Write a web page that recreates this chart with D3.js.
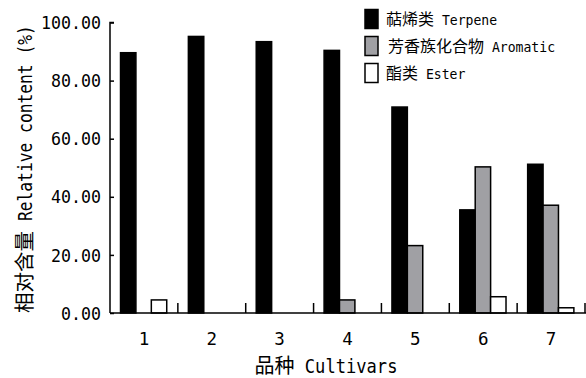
<!DOCTYPE html>
<html><head><meta charset="utf-8">
<script src="https://cdn.jsdelivr.net/npm/d3@7"></script>
<style>
body{margin:0;background:#fff;}
text{fill:#000;}
</style></head>
<body><svg id="c" width="586" height="378"></svg>
<script>
const categories = ["1","2","3","4","5","6","7"];
const seriesNames = [["萜烯类","Terpene"],["芳香族化合物","Aromatic"],["酯类","Ester"]];
const terpene  = [89.6, 95.2, 93.4, 90.4, 70.9, 35.5, 51.2];
const aromatic = [0, 0, 0, 4.5, 23.2, 50.3, 37.1];
const ester    = [4.5, 0, 0, 0, 0, 5.6, 1.8];
const yTicks = [0,20,40,60,80,100];
const colors = ["#000000","#a0a0a4","#ffffff"];

(function(){
const CJK = "'Noto Sans CJK SC','Noto Sans CJK JP',sans-serif";
const MONO = "'DejaVu Sans Mono','Liberation Mono',monospace";
const svg = d3.select("#c");
const L = 110, R = 585, T = 22.5, B = 313;
const x = d3.scaleBand().domain(categories).range([L, R]).paddingInner(0).paddingOuter(0);
const y = d3.scaleLinear().domain([0,100]).range([B, T]);
const series = [terpene, aromatic, ester];
const barW = x.bandwidth()*0.227;
const off = x.bandwidth()*0.155;

// CJK text followed by half-width latin text (latin compressed horizontally)
function mixed(parent, px, py, rot, anchor, cjk, latin, cjkSize, latSize, em) {
  const g = parent.append("g").attr("transform", `translate(${px},${py}) rotate(${rot})`);
  const t1 = g.append("text").attr("font-family", CJK).attr("font-size", cjkSize).text(cjk);
  const w1 = t1.node().getComputedTextLength();
  const t2 = g.append("text").attr("font-family", MONO).attr("font-size", latSize).text(latin);
  const nat = t2.node().getComputedTextLength();
  const target = latin.length*em;
  const total = w1 + em + target;
  const x0 = anchor === "middle" ? -total/2 : 0;
  t1.attr("x", x0);
  t2.attr("transform", `translate(${x0 + w1 + em},0) scale(${target/nat},1)`);
  return g;
}

series.forEach((vals, si) => {
  svg.append("g").selectAll("rect").data(vals.map((v,i)=>({v, c:categories[i]})).filter(d=>d.v>0))
    .join("rect")
    .attr("x", d => x(d.c) + off + si*barW)
    .attr("y", d => y(d.v))
    .attr("width", barW)
    .attr("height", d => B - y(d.v))
    .attr("fill", colors[si])
    .attr("stroke", "#000")
    .attr("stroke-width", 1.5);
});

const ya = svg.append("g").attr("transform", `translate(${L},0)`)
  .call(d3.axisRight(y).tickValues(yTicks).tickSize(4).tickFormat(""));
ya.select(".domain").attr("d", `M4,${T}H0V${B}`).attr("stroke-width",1.5);
ya.selectAll(".tick line").attr("stroke-width",1.5);
svg.append("g").selectAll("text").data(yTicks).join("text")
  .attr("x", 101).attr("y", d => y(d)).attr("dy","0.36em")
  .attr("text-anchor","end").attr("font-size",18.5).attr("font-family", MONO)
  .attr("textLength", d => d3.format(".2f")(d).length*10).attr("lengthAdjust","spacingAndGlyphs")
  .text(d => d3.format(".2f")(d));

svg.append("line").attr("x1", L).attr("x2", 586).attr("y1", B).attr("y2", B)
  .attr("stroke","#000").attr("stroke-width",1.5);
svg.append("g").selectAll("line").data(categories).join("line")
  .attr("x1", d => x(d)+x.bandwidth()).attr("x2", d => x(d)+x.bandwidth())
  .attr("y1", B).attr("y2", B-10)
  .attr("stroke","#000").attr("stroke-width",1.5);
svg.append("g").selectAll("text").data(categories).join("text")
  .attr("x", d => x(d)+x.bandwidth()/2).attr("y", 345)
  .attr("text-anchor","middle").attr("font-size",17.5).attr("font-family", MONO)
  .text(d => d);

mixed(svg, 326, 373, 0, "middle", "品种", "Cultivars", 20, 19.5, 10.3);
mixed(svg, 32, 169, -90, "middle", "相对含量", "Relative content (%)", 20.5, 19, 9.8);

const lg = svg.append("g");
seriesNames.forEach((n,i) => {
  lg.append("rect").attr("x", 365).attr("y", 9.5 + i*27).attr("width", 13).attr("height", 19)
    .attr("fill", colors[i]).attr("stroke","#000").attr("stroke-width",1.5);
  mixed(lg, i===1 ? 388 : 386, 25 + i*27, 0, "start", n[0], n[1], 16, 14.5, 7.9);
});
})();
</script></body></html>
